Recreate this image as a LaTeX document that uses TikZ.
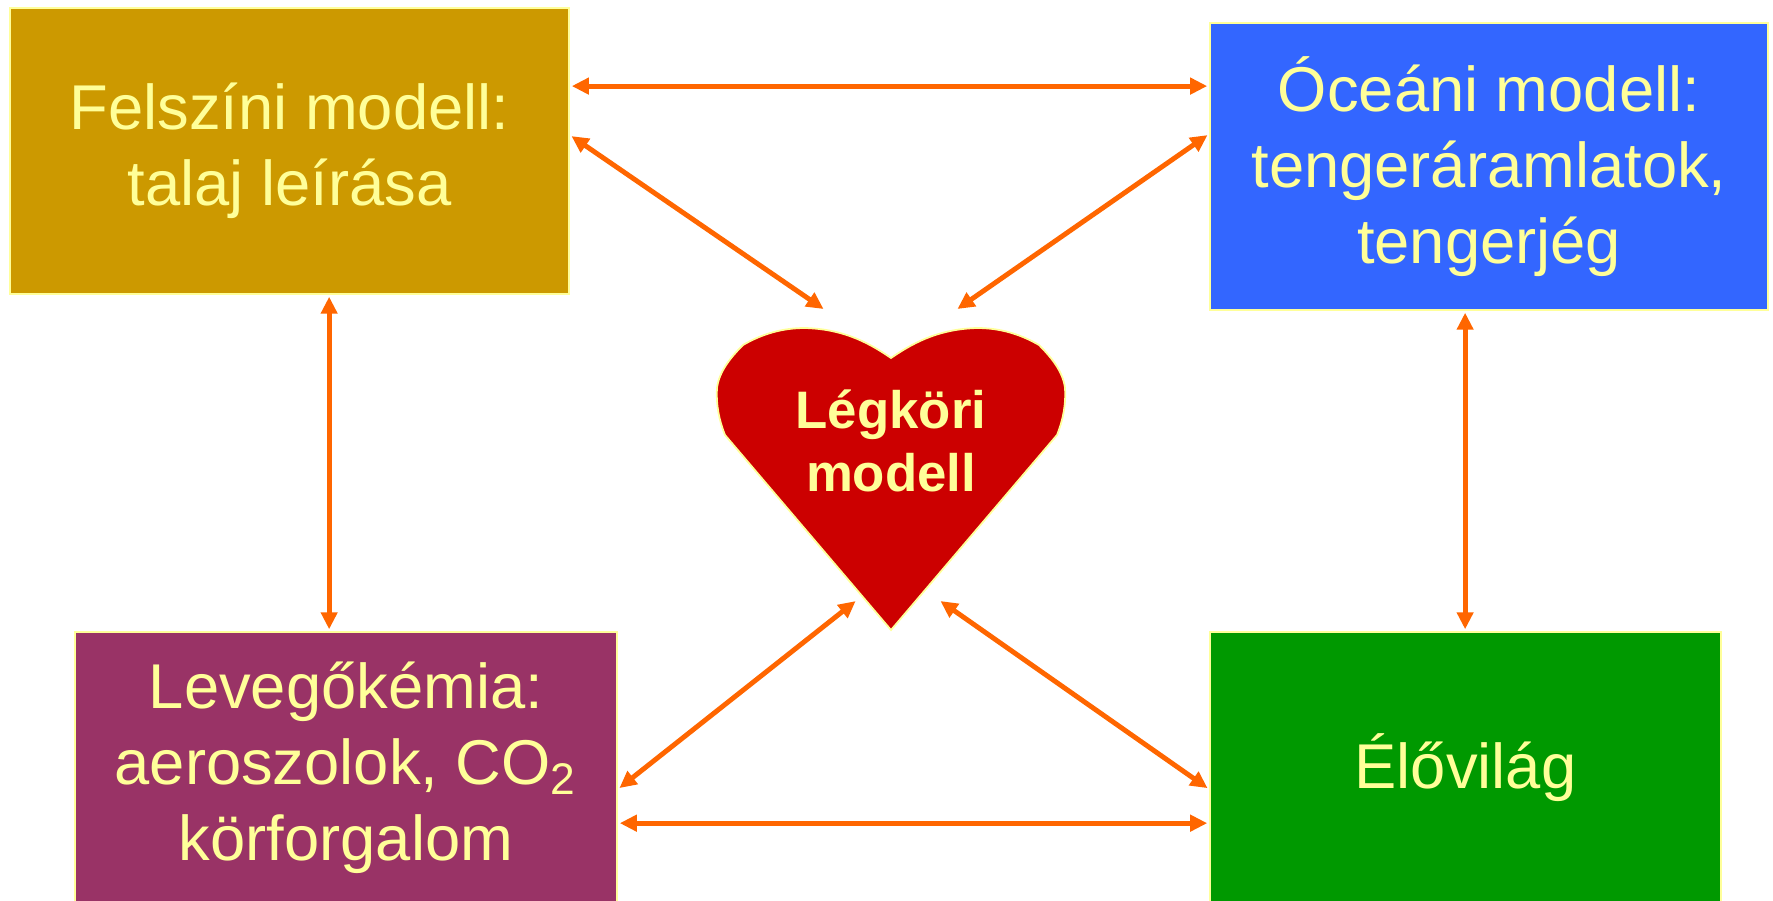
\documentclass[tikz,border=0pt]{standalone}
\usepackage{fontspec}
\setmainfont{Liberation Sans}
\usepackage{tikz}
\usetikzlibrary{arrows.meta}

\definecolor{arany}{HTML}{CC9900}
\definecolor{kek}{HTML}{3366FF}
\definecolor{bordo}{HTML}{993366}
\definecolor{zold}{HTML}{009900}
\definecolor{piros}{HTML}{CC0000}
\definecolor{sarga}{HTML}{FFFF99}
\definecolor{narancs}{HTML}{FF6600}

\begin{document}
\begin{tikzpicture}[
	x=0.01cm, y=-0.01cm,
	doboz/.style={draw=sarga, line width=0.5pt, rectangle, inner sep=0pt, align=center,
		text=sarga, font=\fontsize{18}{21.6}\selectfont},
	nyil/.style={draw=narancs, line width=1.4pt, {Triangle[length=0.17cm, width=0.16cm]}-{Triangle[length=0.17cm, width=0.16cm]},
		shorten >=0.5pt, shorten <=0.5pt},
	felirat/.style={align=center, text=sarga, font=\fontsize{15}{18}\selectfont\bfseries}
	]
	\useasboundingbox (0,0) rectangle (1773,900);
	\clip (0,0) rectangle (1773,900);

	\node[doboz, fill=arany, minimum width=5.59cm, minimum height=2.86cm] (F) at (289.5,151) {Felszíni modell:\\talaj leírása};
	\node[doboz, fill=kek, minimum width=5.58cm, minimum height=2.87cm] (O) at (1489,166.5) {Óceáni modell:\\tengeráramlatok,\\tengerjég};
	\node[doboz, fill=bordo, minimum width=5.42cm, minimum height=2.72cm] (L) at (346,768) {Levegőkémia:\\aeroszolok, CO\textsubscript{2}\\körforgalom};
	\node[doboz, fill=zold, minimum width=5.11cm, minimum height=2.72cm] (E) at (1465.5,768) {Élővilág};

	\fill[piros, draw=sarga, line width=0.5pt] (891,630) -- (725,435)
		.. controls (719,420) and (716,405) .. (717,388)
		.. controls (719,372) and (730,358) .. (743,345)
		.. controls (762,334) and (782,328) .. (805,328)
		.. controls (840,329) and (865,340) .. (891,358)
		.. controls (917,340) and (942,329) .. (977,328)
		.. controls (1000,328) and (1020,334) .. (1039,345)
		.. controls (1052,358) and (1063,372) .. (1065,388)
		.. controls (1066,405) and (1063,420) .. (1057,435) -- cycle;
	\node[felirat] (H) at (891,441) {Légköri\\modell};

	\coordinate (H1) at (825,310);
	\coordinate (H2) at (956,310);
	\coordinate (H3) at (857,600);
	\coordinate (H4) at (939,600);

	\draw[nyil] ([yshift=-0.79cm]F.north east) -- ([yshift=-0.79cm]F.north east -| O.west);
	\draw[nyil] ([yshift=-1.28cm]F.north east) -- (H1);
	\draw[nyil] ([yshift=-1.12cm]O.north west) -- (H2);
	\draw[nyil] ([xshift=3.2cm]F.south west) -- ([xshift=3.2cm]F.south west |- L.north);
	\draw[nyil] ([xshift=2.56cm]O.south west) -- ([xshift=2.56cm]O.south west |- E.north);
	\draw[nyil] ([yshift=-1.58cm]L.north east) -- (H3);
	\draw[nyil] ([yshift=-1.58cm]E.north west) -- (H4);
	\draw[nyil] ([yshift=-1.92cm]L.north east) -- ([yshift=-1.92cm]L.north east -| E.west);
\end{tikzpicture}
\end{document}
